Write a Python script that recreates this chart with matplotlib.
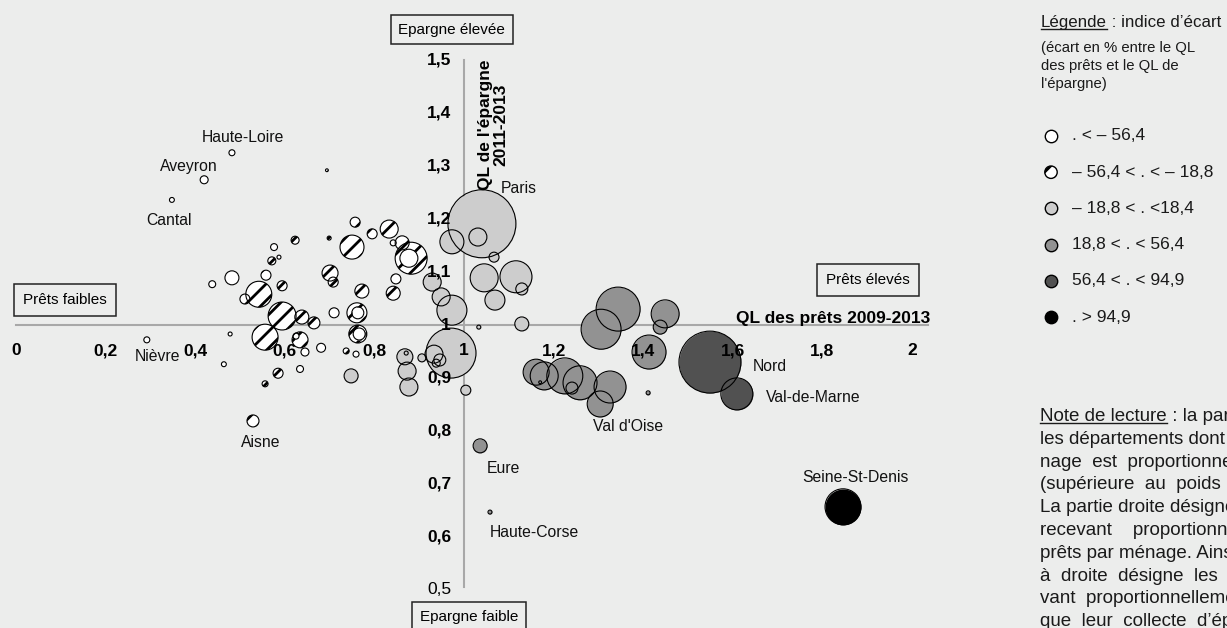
import matplotlib
matplotlib.use("Agg")
import matplotlib.pyplot as plt

plt.rcParams['font.family'] = ['Liberation Sans', 'DejaVu Sans']
plt.rcParams['hatch.linewidth'] = 2.0

FOND = '#ecedec'

# classes de l'indice d'écart :
# 0 = . < -56,4 ; 1 = -56,4 < . < -18,8 ; 2 = -18,8 < . < 18,4
# 3 = 18,8 < . < 56,4 ; 4 = 56,4 < . < 94,9 ; 5 = . > 94,9
ql_prets = [
    # classe 0
    0.482, 0.420, 0.348, 0.576, 0.587, 0.482, 0.438, 0.710, 0.292, 0.478,
    0.464, 0.634, 0.681, 0.645, 0.625, 0.759, 0.877, 0.763, 0.766, 0.842,
    # classe 1
    0.694, 0.757, 0.699, 0.750, 0.795, 0.833, 0.862, 0.882, 0.848, 0.842,
    0.772, 0.701, 0.708, 0.623, 0.571, 0.558, 0.594, 0.542, 0.511, 0.594,
    0.638, 0.665, 0.556, 0.634, 0.585, 0.556, 0.761, 0.763, 0.737, 0.529,
    # classe 2
    1.040, 0.973, 1.031, 1.067, 1.045, 1.116, 1.129, 1.069, 1.129, 0.929,
    0.949, 0.973, 0.971, 1.004, 0.868, 0.873, 0.877, 0.748, 0.906, 0.933,
    0.946, 0.938, 0.871, 1.033,
    # classe 3
    1.344, 1.306, 1.449, 1.438, 1.413, 1.161, 1.179, 1.225, 1.259, 1.241,
    1.326, 1.304, 1.170, 1.411, 1.036, 1.058,
    # classe 4
    1.549, 1.609,
    # classe 5
    1.846,
]
ql_epargne = [
    1.325, 1.274, 1.236, 1.147, 1.128, 1.089, 1.077, 1.023, 0.972, 0.983,
    0.926, 0.917, 0.957, 0.949, 0.979, 0.945, 1.126, 1.023, 0.983, 1.155,
    1.292, 1.194, 1.164, 1.147, 1.172, 1.181, 1.155, 1.126, 1.087, 1.060,
    1.064, 1.098, 1.081, 1.160, 1.121, 1.094, 1.074, 1.058, 1.049, 1.017,
    1.015, 1.004, 0.977, 0.972, 0.909, 0.889, 1.023, 0.983, 0.951, 0.819,
    1.191, 1.157, 1.166, 1.128, 1.089, 1.091, 1.068, 1.047, 1.002, 1.081,
    1.053, 1.028, 0.947, 0.877, 0.940, 0.913, 0.883, 0.904, 0.938, 0.945,
    0.934, 0.928, 0.947, 0.996,
    1.030, 0.992, 1.021, 0.996, 0.949, 0.911, 0.904, 0.904, 0.891, 0.881,
    0.883, 0.851, 0.892, 0.872, 0.772, 0.647,
    0.930, 0.870,
    0.657,
]
poids = [
    9, 16, 6, 12, 4, 49, 12, 25, 9, 4,
    6, 12, 20, 16, 9, 9, 81, 36, 36, 9,
    2, 25, 4, 144, 25, 81, 49, 256, 25, 49,
    49, 64, 25, 16, 16, 25, 25, 169, 25, 196,
    49, 36, 169, 64, 25, 9, 100, 81, 9, 36,
    1156, 144, 81, 25, 196, 256, 36, 100, 49, 81,
    81, 225, 625, 25, 64, 81, 81, 49, 16, 81,
    36, 16, 4, 4,
    484, 400, 196, 49, 289, 169, 196, 324, 289, 36,
    256, 169, 2, 4, 49, 4,
    961, 256,
    324,
]
classe = [0] * 20 + [1] * 30 + [2] * 24 + [3] * 16 + [4] * 2 + [5]

couleurs = ['white', 'white', '#cdcdcd', '#929292', '#515151', 'black']
legende_textes = ['. < \u2013 56,4', '\u2013 56,4 < . < \u2013 18,8', '\u2013 18,8 < . <18,4',
                  '18,8 < . < 56,4', '56,4 < . < 94,9', '. > 94,9']

x_ticks = [0, 0.2, 0.4, 0.6, 0.8, 1, 1.2, 1.4, 1.6, 1.8, 2]
x_tick_labels = ['0', '0,2', '0,4', '0,6', '0,8', '1', '1,2', '1,4', '1,6', '1,8', '2']
y_ticks = [0.5, 0.6, 0.7, 0.8, 0.9, 1, 1.1, 1.2, 1.3, 1.4, 1.5]
y_tick_labels = ['0,5', '0,6', '0,7', '0,8', '0,9', '1', '1,1', '1,2', '1,3', '1,4', '1,5']

# (nom, x, y) des étiquettes de départements
etiquettes = [
    ('Haute-Loire', 0.507, 1.353), ('Aveyron', 0.386, 1.300), ('Cantal', 0.342, 1.198),
    ('Nièvre', 0.315, 0.940), ('Aisne', 0.547, 0.779), ('Paris', 1.123, 1.258),
    ('Eure', 1.087, 0.730), ('Haute-Corse', 1.156, 0.609), ("Val d'Oise", 1.366, 0.809),
    ('Nord', 1.683, 0.921), ('Val-de-Marne', 1.779, 0.864), ('Seine-St-Denis', 1.873, 0.713),
]

note_lignes = [
    ' : la partie haute désigne',
    'les départements dont l\u2019épargne par mé-',
    'nage  est  proportionnellement plus élevée',
    '(supérieure  au  poids  démographique).',
    'La partie droite désigne les départements',
    'recevant    proportionnellement plus de',
    'prêts par ménage. Ainsi, la partie en bas',
    'à  droite  désigne  les  départements rece-',
    'vant  proportionnellement plus de prêts',
    'que  leur  collecte  d\u2019épargne.',
]

fig = plt.figure(figsize=(12.27, 6.28), dpi=100)
fig.patch.set_facecolor(FOND)
ax = fig.add_axes([0, 0, 1, 1])
ax.set_xlim(-16 / 448, 1211 / 448)
ax.set_ylim(1 - 303 / 530, 1 + 325 / 530)
ax.axis('off')

# axes croisés au point (1, 1)
ax.plot([0, 2.036], [1, 1], color='#a8a8a8', lw=1.5, zorder=1)
ax.plot([1, 1], [0.505, 1.5], color='#a8a8a8', lw=1.5, zorder=1)

# bulles : d'abord les remplissages (grandes en dessous), puis tous les contours
ordre = sorted(range(len(poids)), key=lambda i: -poids[i])
for i in ordre:
    c = classe[i]
    ax.scatter([ql_prets[i]], [ql_epargne[i]], s=poids[i] * 2.07,
               facecolors=couleurs[c], edgecolors='black', linewidths=0,
               hatch='//' if c == 1 else None, zorder=2)
ax.scatter(ql_prets, ql_epargne, s=[p * 2.07 for p in poids], facecolors='none',
           edgecolors='black', linewidths=0.8, zorder=3)

for v, lab in zip(x_ticks, x_tick_labels):
    ax.text(v, 0.951, lab, ha='center', va='center', fontsize=12.5, fontweight='bold', zorder=5)
for v, lab in zip(y_ticks, y_tick_labels):
    ax.text(0.971, v, lab, ha='right', va='center', fontsize=12.5,
            fontweight='normal' if v == 0.5 else 'bold', zorder=5)

ax.text(2.040, 1.013, 'QL des prêts 2009-2013', ha='right', va='center',
        fontsize=12.5, fontweight='bold', zorder=5)
ax.text(1.065, 1.378, "QL de l'épargne\n2011-2013", ha='center', va='center', rotation=90,
        multialignment='center', fontsize=12.5, fontweight='bold', linespacing=1.0, zorder=5)

for nom, x, y in etiquettes:
    ax.text(x, y, nom, ha='center', va='center', fontsize=11.3, color='#111111', zorder=5)

boite = dict(boxstyle='square,pad=0.5', fc='none', ec='#222222', lw=1.1)
ax.text(0.973, 1.557, 'Epargne élevée', ha='center', va='center', fontsize=11, bbox=boite, zorder=5)
ax.text(1.011, 0.449, 'Epargne faible', ha='center', va='center', fontsize=11, bbox=boite, zorder=5)
ax.text(0.109, 1.047, 'Prêts faibles', ha='center', va='center', fontsize=11,
        bbox=dict(boxstyle='square,pad=0.6', fc='none', ec='#222222', lw=1.1), zorder=5)
ax.text(1.902, 1.085, 'Prêts élevés', ha='center', va='center', fontsize=11,
        bbox=dict(boxstyle='square,pad=0.6', fc='none', ec='#222222', lw=1.1), zorder=5)

# légende et note, en coordonnées pixels
lax = fig.add_axes([0, 0, 1, 1])
lax.set_xlim(0, 1227)
lax.set_ylim(628, 0)
lax.axis('off')

fig.canvas.draw()
rend = fig.canvas.get_renderer()


def souligne(x, y, mot, suite, taille):
    t = lax.text(x, y, mot, ha='left', va='baseline', fontsize=taille, color='#1a1a1a')
    bb = t.get_window_extent(renderer=rend)
    x1 = x + bb.width
    lax.plot([x, x1], [y + 2, y + 2], color='#1a1a1a', lw=1.0)
    lax.text(x1, y, suite, ha='left', va='baseline', fontsize=taille, color='#1a1a1a')


souligne(1041, 27, 'Légende', ' : indice d\u2019écart', 12.2)
for k, ligne in enumerate(['(écart en % entre le QL', 'des prêts et le QL de', "l'épargne)"]):
    lax.text(1041, 52 + k * 18, ligne, ha='left', va='baseline', fontsize=10.7, color='#1a1a1a')

for k in range(6):
    yk = 136 + k * 36.2
    lax.scatter([1051], [yk], s=80, facecolors=couleurs[k], edgecolors='black',
                linewidths=1.0, hatch='//' if k == 1 else None)
    lax.text(1072, yk, legende_textes[k], ha='left', va='center', fontsize=12.5, color='#1a1a1a')

souligne(1040, 421, 'Note de lecture', note_lignes[0], 13.5)
for k in range(1, len(note_lignes)):
    lax.text(1040, 421 + k * 22.8, note_lignes[k], ha='left', va='baseline',
             fontsize=13.5, color='#1a1a1a')

fig.savefig('out.png', dpi=100, facecolor=FOND)
